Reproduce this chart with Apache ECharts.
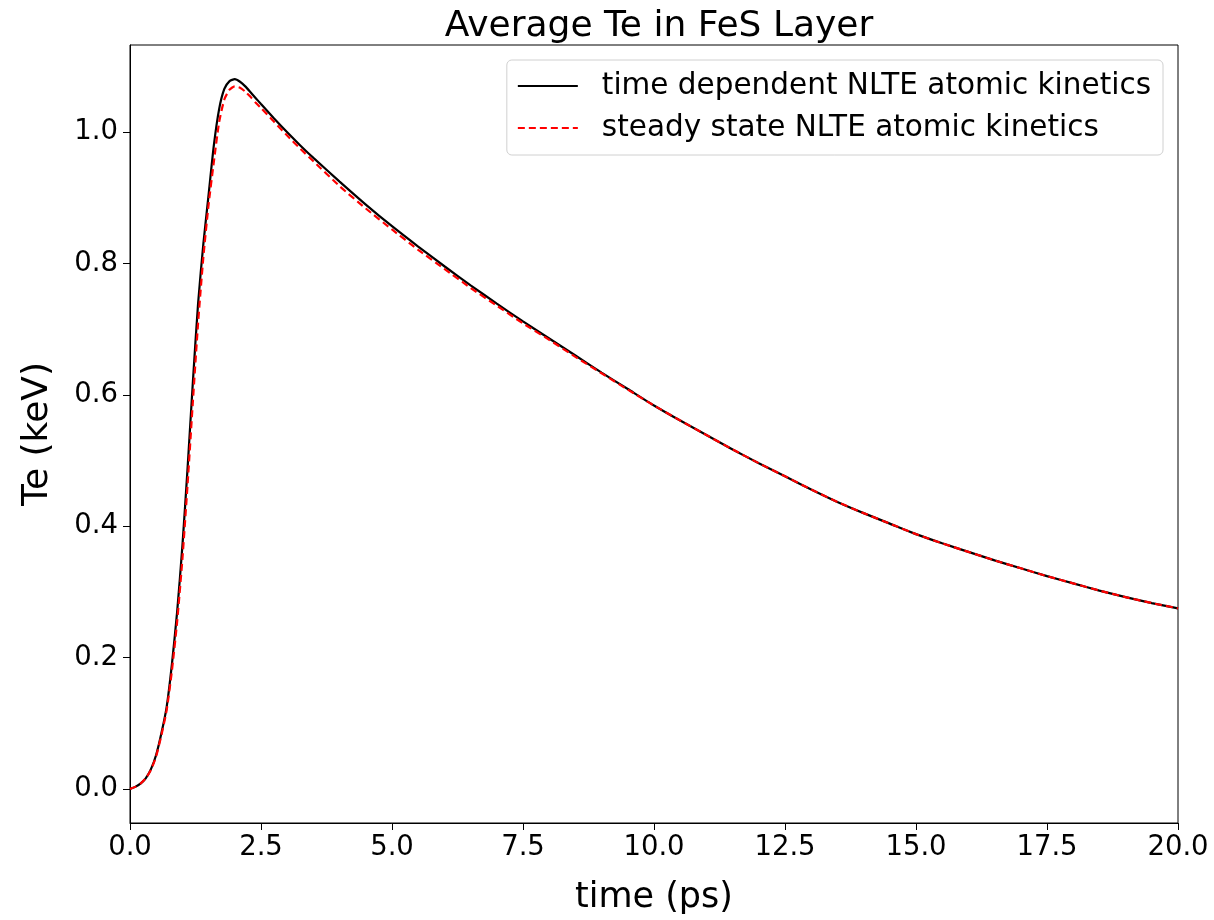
<!DOCTYPE html>
<html>
<head>
<meta charset="utf-8">
<script src="https://cdn.jsdelivr.net/npm/echarts@6/dist/echarts.min.js"></script>
<style>
html,body{margin:0;padding:0;background:#fff;}
#chart{width:1214px;height:920px;}
</style>
</head>
<body>
<div id="chart"></div>
<script>
// time (ps)
const timeValues = [0,0.1,0.2,0.3,0.4,0.5,0.6,0.7,0.8,0.9,1.0,1.1,1.2,1.3,1.4,1.5,1.6,1.7,1.8,1.9,2.0,2.1,2.2,2.3,2.4,2.5,2.75,3.0,3.25,3.5,4.0,4.5,5.0,5.5,6.0,6.5,7.0,7.5,8.0,8.5,9.0,9.5,10,10.5,11,11.5,12,12.5,13,13.5,14,14.5,15,15.5,16,16.5,17,17.5,18,18.5,19,19.5,20];
// time dependent NLTE atomic kinetics (keV)
const tdValues = [0,0.003,0.008,0.016,0.03,0.052,0.085,0.125,0.19,0.27,0.37,0.49,0.62,0.74,0.83,0.905,0.98,1.035,1.066,1.078,1.081,1.077,1.070,1.061,1.052,1.043,1.021,1.0,0.98,0.961,0.925,0.89,0.857,0.826,0.796,0.767,0.739,0.712,0.686,0.66,0.634,0.609,0.584,0.561,0.539,0.517,0.496,0.476,0.456,0.437,0.42,0.404,0.388,0.374,0.361,0.348,0.336,0.324,0.313,0.302,0.292,0.283,0.275];
// steady state NLTE atomic kinetics (keV)
const ssValues = [0,0.003,0.008,0.016,0.029,0.05,0.082,0.12,0.18,0.255,0.35,0.465,0.59,0.71,0.81,0.89,0.955,1.015,1.05,1.065,1.07,1.068,1.062,1.054,1.045,1.037,1.016,0.995,0.975,0.956,0.918,0.884,0.852,0.821,0.792,0.763,0.736,0.709,0.684,0.658,0.633,0.608,0.584,0.561,0.539,0.517,0.496,0.476,0.456,0.437,0.42,0.404,0.388,0.374,0.361,0.348,0.336,0.324,0.313,0.302,0.292,0.283,0.275];
const yTicks = [0,0.2,0.4,0.6,0.8,1.0];
const seriesNames = ['time dependent NLTE atomic kinetics','steady state NLTE atomic kinetics'];

const FONT = 'DejaVu Sans';
const chart = echarts.init(document.getElementById('chart'), null, {renderer:'canvas'});
chart.setOption({
  animation: false,
  backgroundColor: '#fff',
  textStyle: {fontFamily: FONT, color: '#000'},
  title: {
    text: 'Average Te in FeS Layer',
    left: 654, textAlign: 'center', top: 4,
    textStyle: {fontFamily: FONT, fontSize: 36, fontWeight: 'normal', color: '#000'}
  },
  grid: {left: 130, right: 36, top: 45, bottom: 93, show: true, borderColor: '#000', borderWidth: 1, containLabel: false},
  legend: {
    right: 51, top: 60, orient: 'vertical',
    itemWidth: 60, itemHeight: 14, itemGap: 12,
    padding: [11, 12, 12, 10],
    borderColor: '#d0d0d0', borderWidth: 1, borderRadius: 5,
    backgroundColor: 'rgba(255,255,255,0.8)',
    itemStyle: {opacity: 0},
    textStyle: {fontFamily: FONT, fontSize: 29.5, color: '#000', padding: [0,0,0,19]},
    data: seriesNames
  },
  xAxis: {
    type: 'value', min: 0, max: 20, interval: 2.5,
    name: 'time (ps)', nameLocation: 'middle', nameGap: 57,
    nameTextStyle: {fontFamily: FONT, fontSize: 35, color: '#000'},
    axisLine: {show: true, onZero: false, lineStyle: {color: '#000', width: 1}},
    axisTick: {show: true, inside: false, length: 7, lineStyle: {color: '#000', width: 1}},
    axisLabel: {fontFamily: FONT, fontSize: 27.5, color: '#000', margin: 11, formatter: v => v.toFixed(1)},
    splitLine: {show: false}
  },
  yAxis: {
    type: 'value', min: -0.052, max: 1.133,
    name: 'Te (keV)', nameLocation: 'middle', nameGap: 74, nameRotate: 90,
    nameTextStyle: {fontFamily: FONT, fontSize: 36, color: '#000'},
    axisLine: {show: true, onZero: false, lineStyle: {color: '#000', width: 1}},
    axisTick: {show: true, inside: false, length: 7, customValues: yTicks, lineStyle: {color: '#000', width: 1}},
    axisLabel: {fontFamily: FONT, fontSize: 27.5, color: '#000', margin: 12, customValues: yTicks, formatter: v => v.toFixed(1)},
    splitLine: {show: false}
  },
  series: [
    {
      name: seriesNames[0], type: 'line', showSymbol: false, symbol: 'none',
      smooth: 0.2,
      data: timeValues.map((t, i) => [t, tdValues[i]]),
      lineStyle: {color: '#000', width: 2.2},
      itemStyle: {color: '#000'},
      z: 2
    },
    {
      name: seriesNames[1], type: 'line', showSymbol: false, symbol: 'none',
      smooth: 0.2,
      data: timeValues.map((t, i) => [t, ssValues[i]]),
      lineStyle: {color: '#ff0000', width: 2.2, type: [7, 4]},
      itemStyle: {color: '#ff0000'},
      z: 3
    }
  ]
});
</script>
</body>
</html>
